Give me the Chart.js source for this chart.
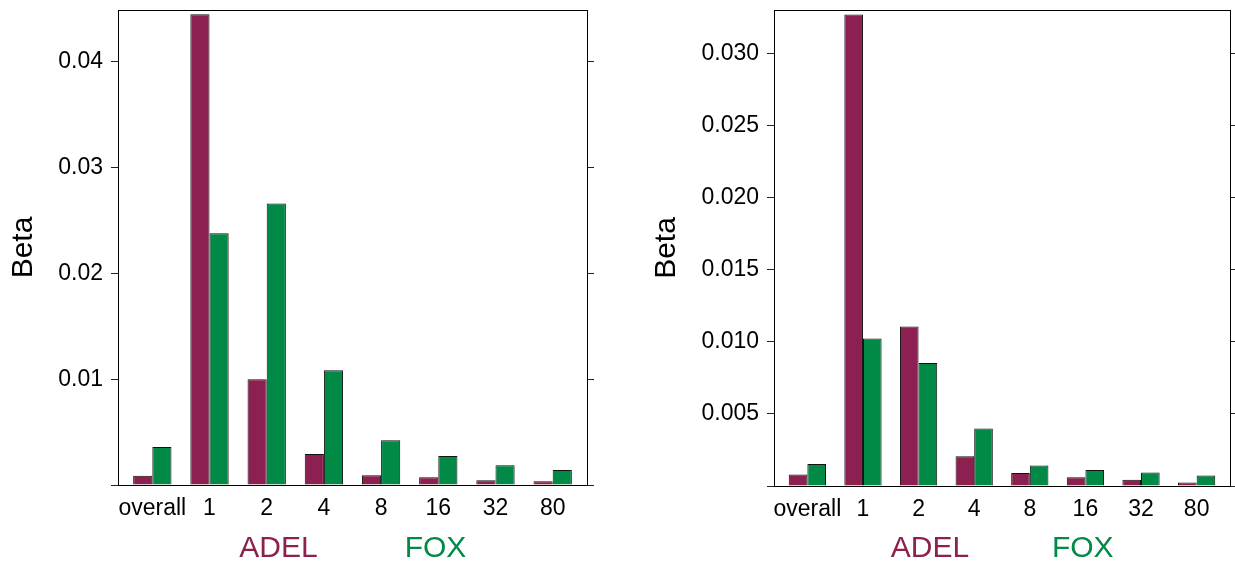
<!DOCTYPE html>
<html><head><meta charset="utf-8">
<script src="https://cdn.jsdelivr.net/npm/chart.js@4/dist/chart.umd.min.js"></script>
<style>
html,body{margin:0;padding:0;background:#fff;}
#wrap{position:relative;width:1235px;height:562px;overflow:hidden;background:#fff;}
canvas{position:absolute;top:0;}
#left{left:0;}
#right{left:617px;}
</style></head><body>
<div id="wrap"><canvas id="left" width="617" height="562"></canvas><canvas id="right" width="618" height="562"></canvas></div>
<script>
const categories = ['overall', '1', '2', '4', '8', '16', '32', '80'];
const seriesNames = ['ADEL', 'FOX'];
const leftADEL = [0.00087, 0.0445, 0.0100, 0.00293, 0.00092, 0.00073, 0.00044, 0.00035];
const leftFOX  = [0.0036, 0.0238, 0.0266, 0.01085, 0.00423, 0.00274, 0.00186, 0.00142];
const rightADEL = [0.00079, 0.03268, 0.01106, 0.00206, 0.00090, 0.00060, 0.00044, 0.00024];
const rightFOX  = [0.00153, 0.01023, 0.00853, 0.00398, 0.00142, 0.00111, 0.00093, 0.00072];
const leftTicks = [0, 0.01, 0.02, 0.03, 0.04];
const leftTickLabels = ['', '0.01', '0.02', '0.03', '0.04'];
const rightTicks = [0, 0.005, 0.010, 0.015, 0.020, 0.025, 0.030];
const rightTickLabels = ['', '0.005', '0.010', '0.015', '0.020', '0.025', '0.030'];
const leftMax = 0.0449;
const rightMax = 0.0330;

const FONT = '"Liberation Sans", Arial, sans-serif';
const COLORS = ['#8C2151', '#008A45'];

const framePlugin = {
  id: 'frame',
  afterDraw(chart) {
    const {ctx, chartArea: a} = chart;
    ctx.save();
    ctx.strokeStyle = '#000';
    ctx.lineWidth = 1;
    ctx.beginPath();
    ctx.moveTo(a.left, Math.round(a.top) + 0.5);
    ctx.lineTo(a.right + 0.5, Math.round(a.top) + 0.5);
    ctx.stroke();
    ctx.font = '30px ' + FONT;
    ctx.textAlign = 'center';
    ctx.textBaseline = 'alphabetic';
    const pos = [0.342, 0.677];
    chart.data.datasets.forEach((d, i) => {
      ctx.fillStyle = d.backgroundColor;
      ctx.fillText(d.label, a.left + pos[i] * (a.right - a.left), 557);
    });
    ctx.restore();
  }
};

function makeChart(id, adel, fox, ticks, tickLabels, max, yW, y2W, xH, titlePad) {
  const series = [adel, fox];
  const labelFor = v => { const i = ticks.findIndex(t => Math.abs(t - v) < 1e-9); return i >= 0 ? tickLabels[i] : ''; };
  const yCommon = {
    min: 0, max: max,
    afterBuildTicks: s => { s.ticks = ticks.map(v => ({value: v})); },
    grid: {display: true, drawOnChartArea: false, drawTicks: true, tickLength: 7, color: '#222', lineWidth: 1},
    border: {display: true, color: '#000', width: 1}
  };
  return new Chart(document.getElementById(id), {
    type: 'bar',
    data: {
      datasets: seriesNames.map((name, k) => ({
        label: name,
        data: categories.map((c, i) => ({x: i, y: series[k][i]})),
        backgroundColor: COLORS[k],
        borderColor: '#111',
        borderWidth: 1,
        categoryPercentage: 0.67,
        barPercentage: 1.0
      }))
    },
    options: {
      responsive: false,
      animation: false,
      events: [],
      layout: {padding: {top: 10, left: 0, right: 0, bottom: 0}},
      plugins: {legend: {display: false}, tooltip: {enabled: false}},
      scales: {
        x: {
          type: 'linear', min: -0.6, max: 7.6, offset: false,
          afterBuildTicks: s => { s.ticks = categories.map((c, i) => ({value: i})); },
          afterFit: s => { s.height = xH; s.paddingLeft = 0; s.paddingRight = 0; },
          ticks: {autoSkip: false, maxRotation: 0, padding: 2, color: '#000', font: {family: FONT, size: 23},
                  callback: v => categories[v]},
          grid: {display: false},
          border: {display: true, color: '#000', width: 1}
        },
        y: Object.assign({}, yCommon, {
          position: 'left',
          afterFit: s => { s.width = yW; s.paddingTop = 0; s.paddingBottom = 0; },
          ticks: {padding: 8, color: '#000', font: {family: FONT, size: 23}, callback: v => labelFor(v)},
          title: {display: true, text: 'Beta', color: '#000', font: {family: FONT, size: 30}, padding: {top: titlePad, bottom: 0}}
        }),
        y2: Object.assign({}, yCommon, {
          position: 'right',
          afterFit: s => { s.width = y2W; s.paddingTop = 0; s.paddingBottom = 0; },
          ticks: {display: false}
        })
      }
    },
    plugins: [framePlugin]
  });
}

makeChart('left', leftADEL, leftFOX, leftTicks, leftTickLabels, leftMax, 118, 30, 77, 6);
makeChart('right', rightADEL, rightFOX, rightTicks, rightTickLabels, rightMax, 157, 5, 76, 32);
</script>
</body></html>
